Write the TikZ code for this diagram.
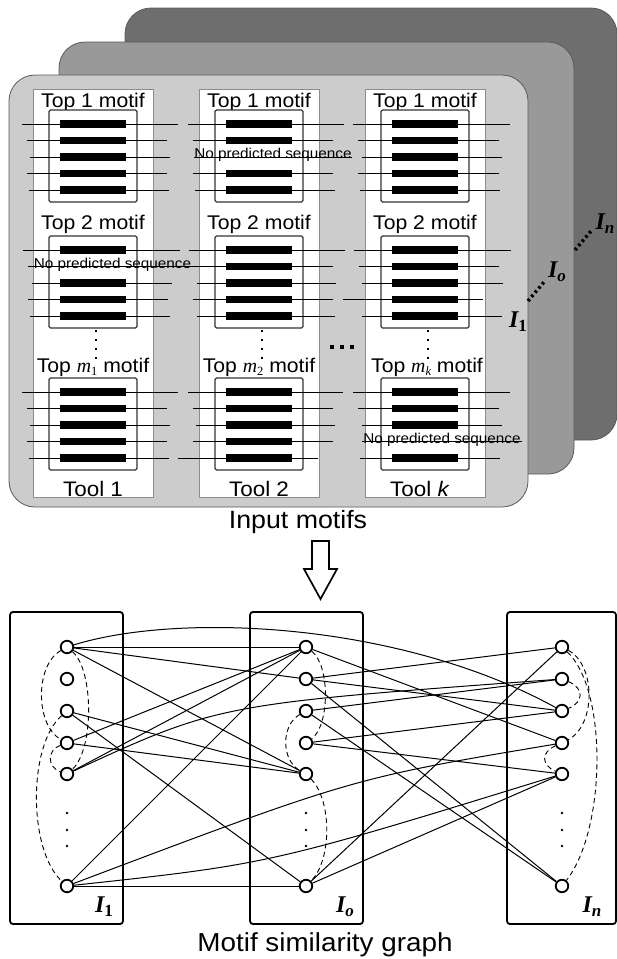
\documentclass[tikz,border=0pt]{standalone}
\usepackage{fontspec}
\setmainfont{Liberation Sans}[FakeStretch=1.07]
\newfontfamily\serifbi{Liberation Serif}
\newcommand{\msub}[1]{{\serifbi\itshape m}\raisebox{-3.5pt}{\fontsize{12.5}{12.5}\selectfont\serifbi #1}}
\begin{document}
\tikzset{
  plate/.style={rounded corners=26pt, draw=black!65, line width=0.8pt},
  toolcol/.style={fill=white, draw=black!45, line width=0.7pt},
  mbox/.style={fill=white, draw=black!80, line width=1.1pt, rounded corners=1.5pt},
  seqline/.style={line width=0.85pt},
  lab/.style={inner sep=0pt, anchor=base, font=\fontsize{19.8}{22}\selectfont},
  toollab/.style={inner sep=0pt, anchor=base, font=\fontsize{21}{24}\selectfont},
  bigtxt/.style={inner sep=0pt, anchor=base, font=\fontsize{25}{28}\selectfont},
  nps/.style={inner sep=0pt, anchor=base, font=\fontsize{14.3}{16}\selectfont},
  ilab/.style={inner sep=0pt, font=\serifbi\bfseries\itshape\fontsize{24}{24}\selectfont},
  gbox/.style={draw, line width=1.8pt, rounded corners=3pt},
  gnode/.style={circle, draw, line width=1.8pt, fill=white, minimum size=12.5pt, inner sep=0pt},
  edge/.style={line width=1pt},
  dedge/.style={line width=0.9pt, dash pattern=on 5pt off 3.5pt},
  bigdots/.style={line width=3.5pt, dash pattern=on 2.5pt off 3pt},
}
\newcommand{\motifblock}[4]{%
  \draw[mbox] (#1-44,#2) rectangle (#1+44,#2+92);
  \foreach \l/\r [count=\i] in {#3} {
    \pgfmathsetmacro{\yy}{#2+14+16.5*(\i-1)}
    \ifnum\i=#4\relax
      \node[nps] (nps-#1-#2) at ({(\l+\r)/2},\yy+1.5) {No predicted sequence};
      \draw[seqline] (\l,\yy) -- (\r,\yy);
    \else
      \fill (#1-33,\yy-3.6) rectangle (#1+33,\yy+3.6);
      \draw[seqline] (\l,\yy) -- (\r,\yy);
    \fi
  }
}
\newcommand{\vdotsq}[2]{%
  \foreach \k in {0,1,2,3} {\fill (#1-1.2,#2+9*\k-1.2) rectangle (#1+1.2,#2+9*\k+1.2);}
}
\begin{tikzpicture}[x=1pt,y=-1pt]
\useasboundingbox (0,0) rectangle (617,959);
\fill[white] (0,0) rectangle (617,959);

% ---------- stacked plates ----------
\draw[plate, fill=black!57] (125,8) rectangle (617,440);
\draw[plate, fill=black!40] (59,42) rectangle (574,474);
\draw[plate, fill=black!20] (9,75) rectangle (528,507);

% ---------- tool columns ----------
\foreach \c in {93,259,425} {\draw[toolcol] (\c-60,89) rectangle (\c+60,497);}

% labels
\node[lab] (t11) at (93,107) {Top 1 motif};
\node[lab] (t12) at (93,229) {Top 2 motif};
\node[lab] (t13) at (93,372) {Top \msub{1} motif};
\node[toollab] (tool1) at (93,496) {Tool 1};
\node[lab] (t21) at (259,107) {Top 1 motif};
\node[lab] (t22) at (259,229) {Top 2 motif};
\node[lab] (t23) at (259,372) {Top \msub{2} motif};
\node[toollab] (tool2) at (259,496) {Tool 2};
\node[lab] (t31) at (425,107) {Top 1 motif};
\node[lab] (t32) at (425,229) {Top 2 motif};
\node[lab] (t33) at (427,372) {Top \msub{\itshape k} motif};
\node[toollab] (tool3) at (420,496) {Tool \textit{k}};

% motif boxes
\motifblock{93}{110}{22/178,27/167,30/170,27/167,29/169}{0}
\motifblock{93}{236}{23/180,28/197,32/172,28/168,30/170}{2}
\motifblock{93}{378}{22/178,27/167,30/170,27/167,29/169}{0}
\motifblock{259}{110}{188/344,193/333,194/352,193/333,195/335}{3}
\motifblock{259}{236}{189/345,193/333,197/336,193/333,197/335}{0}
\motifblock{259}{378}{188/343,193/333,196/335,193/333,178/318}{0}
\motifblock{425}{110}{353/510,358/499,362/502,358/499,360/500}{0}
\motifblock{425}{236}{354/511,359/499,362/503,343/483,362/502}{0}
\motifblock{425}{378}{353/510,358/499,362/502,362/522,360/500}{4}

% vertical dots
\vdotsq{96}{331}
\vdotsq{262}{331}
\vdotsq{428}{331}
% horizontal dots between tools
\foreach \x in {332,342,352} {\fill (\x-2.2,345) rectangle (\x+2.2,349.4);}

% plate labels
\node[ilab] (pI1) at (518,322) {I\raisebox{-4pt}{\fontsize{17}{17}\selectfont\upshape 1}};
\node[ilab] (pIo) at (557,272) {I\raisebox{-4pt}{\fontsize{17}{17}\selectfont o}};
\node[ilab] (pIn) at (605,224) {I\raisebox{-4pt}{\fontsize{17}{17}\selectfont n}};
\coordinate (d1a) at (528,301); \coordinate (d1b) at (544,282);
\coordinate (d2a) at (575,250); \coordinate (d2b) at (591,231);
\draw[bigdots] (d1a) -- (d1b);
\draw[bigdots] (d2a) -- (d2b);

\node[bigtxt] (inmot) at (298,528) {Input motifs};

% block arrow
\draw[line width=1.7pt, fill=white, line join=miter]
  (312,541) -- (329,541) -- (329,569) -- (337,569) -- (320.5,599) -- (304,569) -- (312,569) -- cycle;

% ---------- similarity graph ----------
\draw[gbox] (10,612) rectangle (123,924);
\draw[gbox] (250,612) rectangle (363,924);
\draw[gbox] (507,612) rectangle (616,924);

\foreach \n/\x in {L/67,M/306,R/562} {
  \foreach \i/\y in {1/647,2/679,3/711,4/743,5/774,6/886} {
    \node[gnode] (\n\i) at (\x,\y) {};
  }
  \foreach \y in {813,830,846} {\fill (\x,\y) circle (1.3pt);}
}

% straight edges
\foreach \a/\b in {L1/M1,L1/M2,L1/M5,L3/M5,L3/M6,L4/M1,L4/M5,L5/M1,L6/M1,L6/M6,
                   M1/R4,M2/R1,M2/R3,M2/R6,M3/R2,M3/R6,M4/R3,M4/R5,M6/R1,M6/R5}
  {\draw[edge] (\a) -- (\b);}
% curved edges
\draw[edge] (L1) .. controls (180,612) and (400,622) .. (R3);
\draw[edge] (L5) .. controls (219,704) .. (R2);
\draw[edge] (L6) .. controls (353,778) .. (R4);
\draw[edge] (L6) .. controls (270,864) .. (R5);

% dashed arcs
\draw[dedge] (L1) .. controls (35,665) and (35,725) .. (L4);
\draw[dedge] (L1) .. controls (94,670) and (94,750) .. (L5);
\draw[dedge] (L4) .. controls (47,750) and (47,767) .. (L5);
\draw[dedge] (L3) .. controls (28,745) and (28,850) .. (L6);
\draw[dedge] (M1) .. controls (330,665) and (330,725) .. (M4);
\draw[dedge] (M3) .. controls (281,725) and (281,760) .. (M5);
\draw[dedge] (M5) .. controls (332,800) and (332,860) .. (M6);
\draw[dedge] (R1) .. controls (596,665) and (596,725) .. (R4);
\draw[dedge] (R1) .. controls (608,690) and (606,830) .. (R6);
\draw[dedge] (R2) .. controls (584,688) and (584,702) .. (R3);
\draw[dedge] (R4) .. controls (541,752) and (541,765) .. (R5);

\node[ilab] (gI1) at (104,907) {I\raisebox{-4pt}{\fontsize{17}{17}\selectfont\upshape 1}};
\node[ilab] (gIo) at (345,907) {I\raisebox{-4pt}{\fontsize{17}{17}\selectfont o}};
\node[ilab] (gIn) at (592,907) {I\raisebox{-4pt}{\fontsize{17}{17}\selectfont n}};

\node[bigtxt] (simg) at (325,951) {\fontsize{26}{28}\selectfont Motif similarity graph};
\end{tikzpicture}
\end{document}
